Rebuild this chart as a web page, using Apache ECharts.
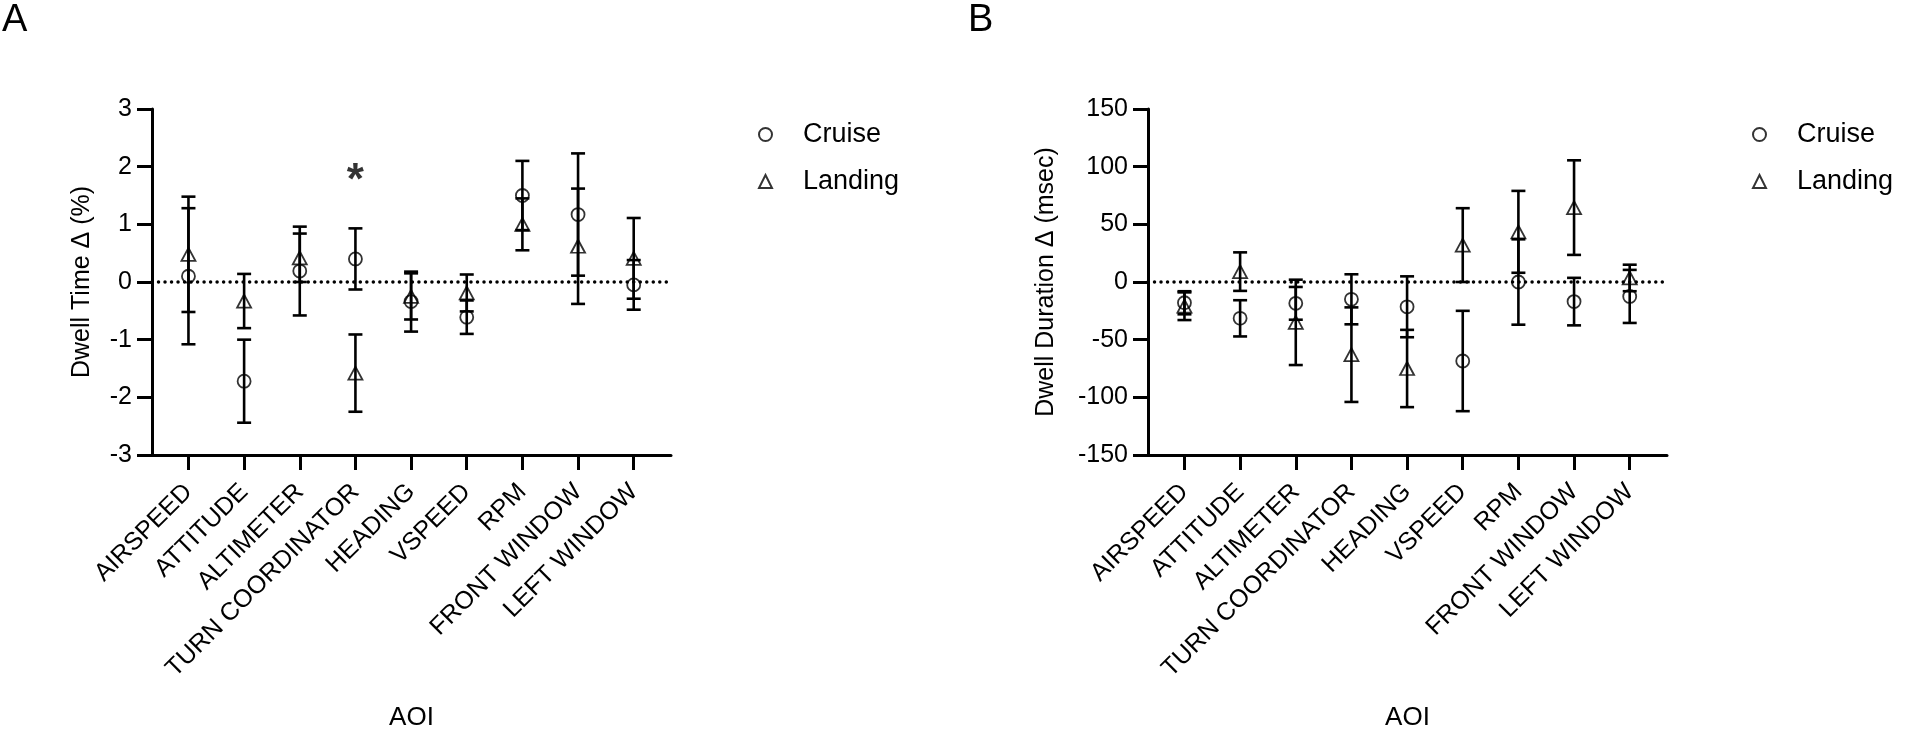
<!DOCTYPE html>
<html>
<head>
<meta charset="utf-8">
<script src="https://cdn.jsdelivr.net/npm/echarts@6/dist/echarts.min.js"></script>
<style>
  html, body { margin: 0; padding: 0; background: #fff; }
  #chart { width: 1905px; height: 732px; }
</style>
</head>
<body>
<div id="chart"></div>
<script>
// AOI categories shared by both panels
var categories = ['AIRSPEED', 'ATTITUDE', 'ALTIMETER', 'TURN COORDINATOR', 'HEADING',
                  'VSPEED', 'RPM', 'FRONT WINDOW', 'LEFT WINDOW'];

// panel A: dwell time delta (%), mean and error
var timeCruise      = [0.10, -1.72, 0.19, 0.40, -0.34, -0.61, 1.50, 1.17, -0.05];
var timeCruiseErr   = [1.18, 0.72, 0.77, 0.53, 0.52, 0.29, 0.60, 1.06, 0.43];
var timeLanding     = [0.48, -0.33, 0.42, -1.58, -0.25, -0.19, 1.00, 0.62, 0.41];
var timeLandingErr  = [1.00, 0.47, 0.42, 0.67, 0.40, 0.32, 0.45, 1.00, 0.70];
var timeStars       = [[3, 1.85]];
var timeTicks       = [-3, 3, 1];

// panel B: dwell duration delta (msec), mean and error
var durCruise       = [-18, -31.5, -18.5, -15, -21.5, -68.5, 0, -17, -12.5];
var durCruiseErr    = [10, 15.7, 14.2, 21.7, 26.4, 43.5, 37, 20.6, 23];
var durLanding      = [-21, 9, -35, -63, -75, 32, 43.5, 64.5, 3.5];
var durLandingErr   = [12, 16.7, 37, 41, 33.5, 32, 35.5, 41, 11.5];
var durTicks        = [-150, 150, 50];

var font = 'Liberation Sans, Arial, Helvetica, sans-serif';
var idx = categories.map(function (c, i) { return i; });

function points(vals) {
    return vals.map(function (v, i) { return [i, v]; });
}
function bars(vals, errs) {
    return vals.map(function (v, i) { return [i, v - errs[i], v + errs[i]]; });
}

function renderErr(params, api) {
    var x = api.value(0),
        lo = api.coord([x, api.value(1)]),
        hi = api.coord([x, api.value(2)]),
        w = 7,
        st = { stroke: '#000', lineWidth: 2.6, fill: null };
    return {
        type: 'group',
        children: [
            { type: 'line', shape: { x1: lo[0], y1: lo[1], x2: hi[0], y2: hi[1] }, style: st },
            { type: 'line', shape: { x1: hi[0] - w, y1: hi[1], x2: hi[0] + w, y2: hi[1] }, style: st },
            { type: 'line', shape: { x1: lo[0] - w, y1: lo[1], x2: lo[0] + w, y2: lo[1] }, style: st }
        ]
    };
}

function xAxisFor(g) {
    return {
        gridIndex: g, type: 'value', min: -0.655, max: 8.67,
        name: 'AOI', nameLocation: 'middle', nameGap: 250,
        nameTextStyle: { fontSize: 26, color: '#000', fontFamily: font },
        axisLine: { onZero: false, lineStyle: { color: '#000', width: 3 } },
        axisTick: { customValues: idx, length: 15, lineStyle: { color: '#000', width: 3 } },
        axisLabel: {
            customValues: idx, rotate: 45, margin: 33, fontSize: 25, color: '#000', fontFamily: font,
            formatter: function (v) { return categories[Math.round(v)]; }
        },
        splitLine: { show: false }
    };
}

function yAxisFor(g, ticks, name, gap) {
    return {
        gridIndex: g, type: 'value', min: ticks[0], max: ticks[1], interval: ticks[2],
        name: name, nameLocation: 'middle', nameGap: gap,
        nameTextStyle: { fontSize: 25, color: '#000', fontFamily: font },
        axisLine: { show: true, onZero: false, lineStyle: { color: '#000', width: 3 } },
        axisTick: { show: true, length: 15, lineStyle: { color: '#000', width: 3 } },
        axisLabel: { margin: 20, fontSize: 25, color: '#000', fontFamily: font },
        splitLine: { show: false }
    };
}

var zeroLine = {
    silent: true, symbol: 'none', label: { show: false },
    lineStyle: { color: '#000', width: 3.5, type: [0.01, 6.5], cap: 'round' },
    data: [{ yAxis: 0 }]
};

var hollow = { color: 'rgba(0,0,0,0)', borderColor: '#000', borderWidth: 1.8 };

function panelSeries(g, cruise, cruiseErr, landing, landingErr) {
    return [
        { type: 'custom', name: 'errC' + g, xAxisIndex: g, yAxisIndex: g, renderItem: renderErr,
          encode: { x: 0, y: [1, 2] }, data: bars(cruise, cruiseErr), z: 2 },
        { type: 'custom', name: 'errL' + g, xAxisIndex: g, yAxisIndex: g, renderItem: renderErr,
          encode: { x: 0, y: [1, 2] }, data: bars(landing, landingErr), z: 2 },
        { type: 'scatter', name: 'Cruise', xAxisIndex: g, yAxisIndex: g, symbol: 'circle', symbolSize: 13,
          itemStyle: hollow, data: points(cruise), markLine: zeroLine, z: 3 },
        { type: 'scatter', name: 'Landing', xAxisIndex: g, yAxisIndex: g, symbol: 'triangle', symbolSize: [14, 13],
          itemStyle: hollow, data: points(landing), z: 3 }
    ];
}

function legendAt(left) {
    return {
        orient: 'vertical', left: left, top: 121, padding: 0, itemWidth: 13, itemHeight: 13, itemGap: 20,
        data: ['Cruise', 'Landing'],
        textStyle: { fontSize: 27, color: '#000', fontFamily: font, padding: [0, 0, 0, 26] }
    };
}

var series = panelSeries(0, timeCruise, timeCruiseErr, timeLanding, timeLandingErr)
    .concat(panelSeries(1, durCruise, durCruiseErr, durLanding, durLandingErr));

series.push({
    type: 'scatter', name: 'star', xAxisIndex: 0, yAxisIndex: 0, symbolSize: 1,
    itemStyle: { color: 'rgba(0,0,0,0)' }, data: timeStars, z: 4,
    label: { show: true, position: 'inside', formatter: '*', fontSize: 44, fontWeight: 'bold',
             color: '#000', fontFamily: font, offset: [0, 7] }
});

var titleStyle = { fontSize: 38, fontWeight: 'normal', color: '#000', fontFamily: font };

var chart = echarts.init(document.getElementById('chart'));
chart.setOption({
    animation: false,
    backgroundColor: '#fff',
    textStyle: { fontFamily: font },
    title: [
        { text: 'A', left: 2, top: 2, padding: 0, textStyle: titleStyle },
        { text: 'B', left: 968, top: 2, padding: 0, textStyle: titleStyle }
    ],
    legend: [legendAt(758), legendAt(1752)],
    grid: [
        { left: 152, top: 109, width: 519, height: 346, outerBoundsMode: 'none' },
        { left: 1148, top: 109, width: 519, height: 346, outerBoundsMode: 'none' }
    ],
    xAxis: [xAxisFor(0), xAxisFor(1)],
    yAxis: [
        yAxisFor(0, timeTicks, 'Dwell Time \u0394 (%)', 57),
        yAxisFor(1, durTicks, 'Dwell Duration \u0394 (msec)', 89)
    ],
    series: series
});
</script>
</body>
</html>
